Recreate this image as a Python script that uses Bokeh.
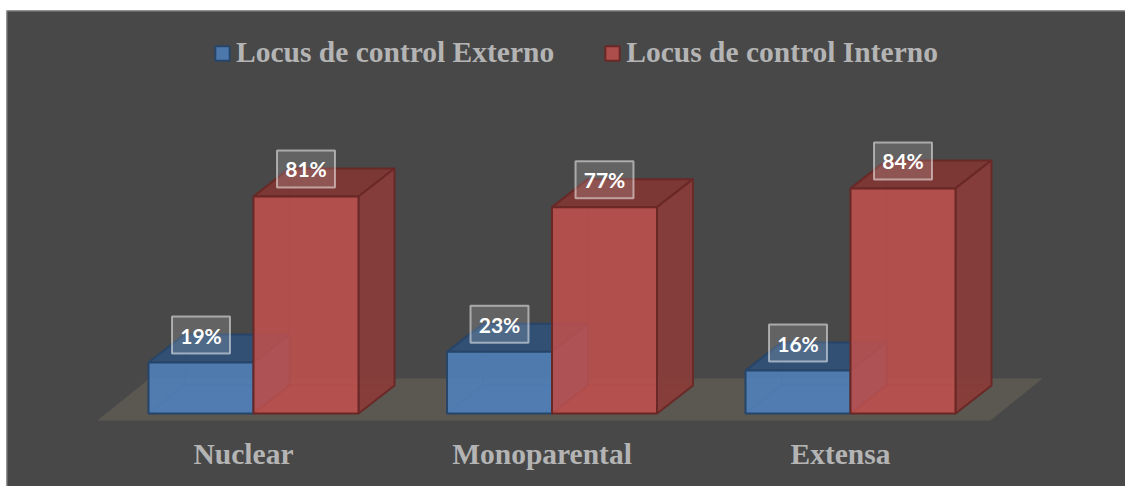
from bokeh.plotting import figure
from bokeh.embed import file_html
from bokeh.resources import INLINE
from bokeh.models import ColumnDataSource, Legend, LegendItem, Span
from bokeh.core.properties import value

categories = ["Nuclear", "Monoparental", "Extensa"]
externo = [19, 23, 16]
interno = [81, 77, 84]
series_names = ["Locus de control Externo", "Locus de control Interno"]

PX_X = 298.5    # pixels per category
PX_Y = 2.68     # pixels per percent
BAR_W = 105 / PX_X
DX = 36 / PX_X
DY = 28 / PX_Y

X_START, X_END = (6 - 253) / PX_X, (1125 - 253) / PX_X
Y_START, Y_END = -73 / PX_Y, 403 / PX_Y

p = figure(width=1119, height=478, output_backend="svg", toolbar_location=None,
           x_range=(X_START, X_END), y_range=(Y_START, Y_END),
           min_border_left=0, min_border_right=0, min_border_top=2, min_border_bottom=0,
           margin=(8, 0, 0, 6),
           background_fill_color="#484848", border_fill_color="white",
           outline_line_color=None)
p.axis.visible = False
p.grid.visible = False
p.add_layout(Span(location=X_START, dimension="height", line_color="#858585", line_width=2))
p.add_layout(Span(location=Y_END, dimension="width", line_color="#858585", line_width=2))

# floor
fx0, fx1 = (97 - 253) / PX_X, (990 - 253) / PX_X
fdx = 52 / PX_X
fy0, fy1 = -7 / PX_Y, 35 / PX_Y
p.patch([fx0, fx1, fx1 + fdx, fx0 + fdx], [fy0, fy0, fy1, fy1], fill_color="#5a5850", line_color=None)


def box_faces(x0, x1, v, col, dark, side, edge):
    # back, left and floor faces first, then top, right; the front goes on a vbar
    faces = [
        ([x0 + DX, x1 + DX, x1 + DX, x0 + DX], [DY, DY, v + DY, v + DY], col, 0.12),
        ([x0, x0 + DX, x0 + DX, x0], [0, DY, v + DY, v], col, 0.12),
        ([x0, x1, x1 + DX, x0 + DX], [0, 0, DY, DY], col, 0.25),
        ([x0, x1, x1 + DX, x0 + DX], [v, v, v + DY, v + DY], dark, 0.9),
        ([x1, x1 + DX, x1 + DX, x1], [0, DY, v + DY, v], side, 0.9),
    ]
    for xs, ys, c, a in faces:
        p.patch(xs, ys, fill_color=c, fill_alpha=a, line_color=edge, line_width=2, line_alpha=min(1, a + 0.05))


styles = [
    dict(col="#4f81bd", dark="#2f5078", side="#3c6595", edge="#274568"),
    dict(col="#c0504d", dark="#803633", side="#8a3c39", edge="#692826"),
]
legend_items = []
for k, vals in enumerate([externo, interno]):
    st = styles[k]
    r = None
    for i, v in enumerate(vals):
        x0 = i - BAR_W if k == 0 else i
        x1 = x0 + BAR_W
        box_faces(x0, x1, v, **st)
        r = p.vbar(x=[(x0 + x1) / 2], bottom=[0], top=[v], width=BAR_W, fill_color=st["col"],
                   fill_alpha=0.85, line_color=st["edge"], line_width=2)
    legend_items.append(LegendItem(label=value(series_names[k]), renderers=[r]))

# data labels
lab_x, lab_y, lab_t = [], [], []
for k, vals in enumerate([externo, interno]):
    for i, v in enumerate(vals):
        lab_x.append(i - BAR_W / 2 if k == 0 else i + BAR_W / 2)
        lab_y.append(v + 27.5 / PX_Y)
        lab_t.append(f"{v}%")
src = ColumnDataSource(dict(x=lab_x, y=lab_y, t=lab_t))
p.rect("x", "y", width=58, height=37, width_units="screen", height_units="screen", source=src,
       fill_color="white", fill_alpha=0.15, line_color="white", line_alpha=0.5, line_width=2)
p.text("x", "y", text="t", source=src, text_color="white", text_font=value("Lato"),
       text_font_style="bold", text_font_size="21px", text_align="center", text_baseline="middle")

# category labels
p.text(list(range(3)), [-40 / PX_Y] * 3, text=categories, x_offset=-10, text_color="#b4b4b4",
       text_font=value("Liberation Serif"), text_font_style="bold", text_font_size="29.5px",
       text_align="center", text_baseline="middle")

legend = Legend(items=legend_items, orientation="horizontal", location=(207, 417),
                background_fill_alpha=0, border_line_color=None,
                label_text_color="#b4b4b4", label_text_font="Liberation Serif",
                label_text_font_style="bold", label_text_font_size="29.5px",
                glyph_width=18, glyph_height=18, spacing=49, padding=10, margin=0, label_standoff=5)
p.add_layout(legend, "center")

open("out.html", "w").write(file_html(p, INLINE))
